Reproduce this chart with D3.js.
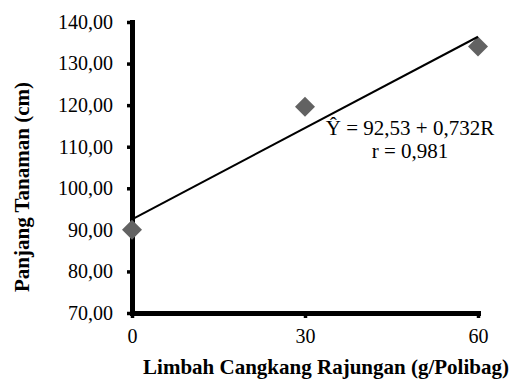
<!DOCTYPE html>
<html>
<head>
  <meta charset="UTF-8">
  <script src="https://d3js.org/d3.v7.min.js"></script>
</head>
<body style="margin:0">
  <script>
    // data
    const doses = [0, 30, 60];
    const heights = [90.0, 119.6, 134.1];
    const yTicks = [70, 80, 90, 100, 110, 120, 130, 140];
    const regIntercept = 92.53;
    const regSlope = 0.732;
    const eqLines = ["\u0176 = 92,53 + 0,732R", "r = 0,981"];

    const width = 516, height = 380;
    const margin = { top: 22, right: 38, bottom: 67, left: 132 };
    const serif = '"Liberation Serif"';

    const svg = d3.select("body")
      .append("svg")
      .attr("width", width)
      .attr("height", height);

    const x = d3.scaleLinear()
      .domain([0, 60])
      .range([margin.left, width - margin.right]);

    const y = d3.scaleLinear()
      .domain([70, 140])
      .range([height - margin.bottom, margin.top]);

    const fmt = d => d.toFixed(2).replace(".", ",");

    // Y axis
    const gy = svg.append("g")
      .attr("transform", `translate(${margin.left},0)`)
      .call(d3.axisLeft(y).tickValues(yTicks).tickFormat(fmt).tickSize(5).tickSizeOuter(0).tickPadding(14));

    // X axis
    const gx = svg.append("g")
      .attr("transform", `translate(0,${height - margin.bottom})`)
      .call(d3.axisBottom(x).tickValues(doses).tickFormat(d3.format("d")).tickSize(5).tickSizeOuter(0).tickPadding(11));

    [gx, gy].forEach(g => {
      g.attr("font-family", null).attr("font-size", null);
      g.select(".domain").attr("stroke", "#000").attr("stroke-width", 5).attr("stroke-linecap", "square");
      g.selectAll(".tick line").attr("stroke", "#000").attr("stroke-width", 3.5);
      g.selectAll(".tick text")
        .style("font-family", serif)
        .style("font-size", "20px")
        .attr("fill", "#000");
    });

    // points (diamonds)
    svg.selectAll(".pt")
      .data(doses)
      .enter()
      .append("path")
      .attr("class", "pt")
      .attr("d", d3.symbol().type(d3.symbolSquare).size(200))
      .attr("transform", (d, i) => `translate(${x(d)},${y(heights[i])}) rotate(45)`)
      .attr("fill", "#626262");

    // regression line
    svg.append("line")
      .attr("x1", x(0))
      .attr("y1", y(regIntercept))
      .attr("x2", x(60))
      .attr("y2", y(regIntercept + regSlope * 60))
      .attr("stroke", "#000")
      .attr("stroke-width", 2);

    // equation
    svg.selectAll(".eq")
      .data(eqLines)
      .enter()
      .append("text")
      .attr("class", "eq")
      .attr("x", 410)
      .attr("y", (d, i) => 135 + i * 23)
      .attr("text-anchor", "middle")
      .style("font-family", serif)
      .style("font-size", "21px")
      .text(d => d);

    // axis titles
    svg.append("text")
      .attr("x", 326)
      .attr("y", 374)
      .attr("text-anchor", "middle")
      .style("font-family", serif)
      .style("font-weight", "bold")
      .style("font-size", "21px")
      .text("Limbah Cangkang Rajungan (g/Polibag)");

    svg.append("text")
      .attr("transform", "translate(29,187) rotate(-90)")
      .attr("text-anchor", "middle")
      .style("font-family", serif)
      .style("font-weight", "bold")
      .style("font-size", "21px")
      .text("Panjang Tanaman (cm)");
  </script>
</body>
</html>
